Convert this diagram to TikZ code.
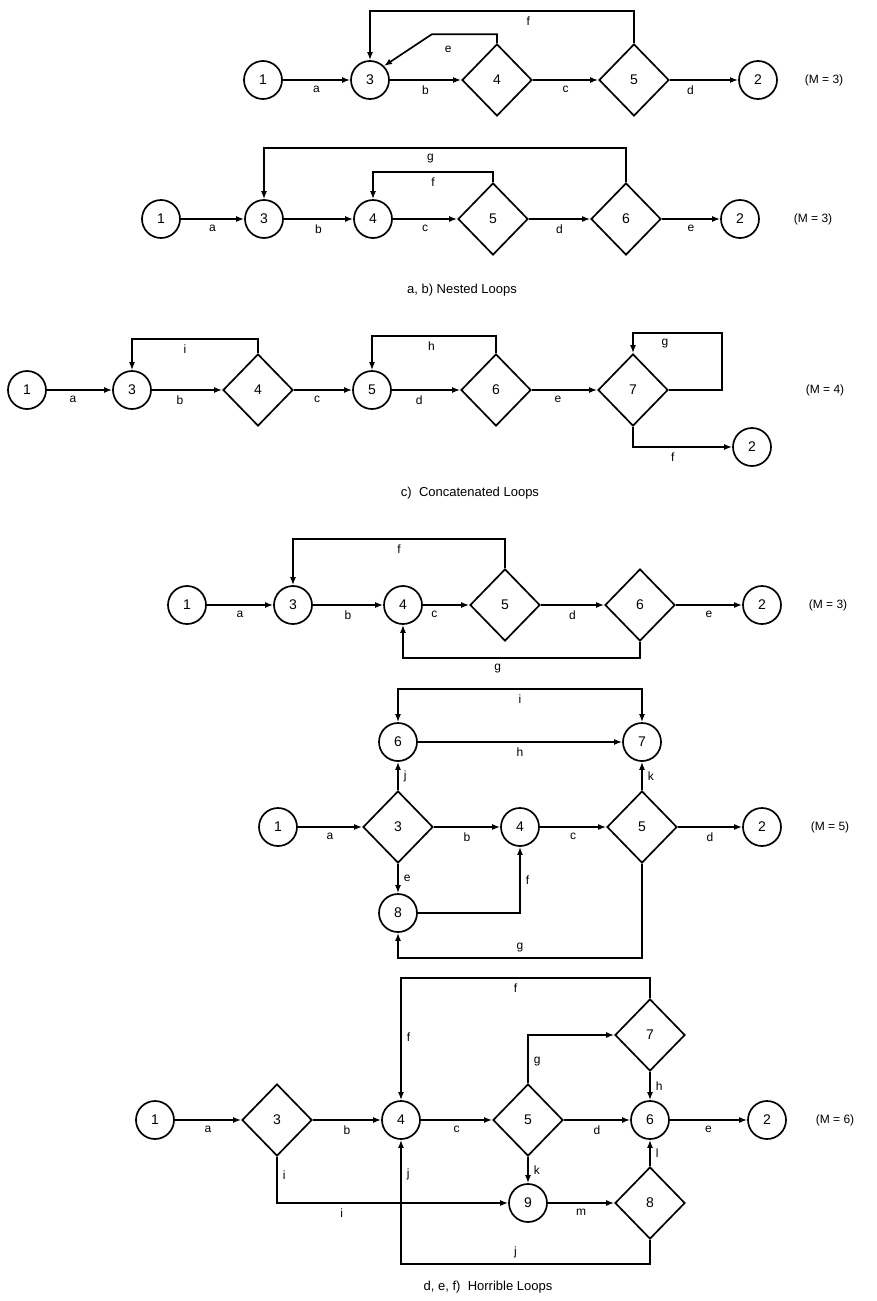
\documentclass[tikz,border=0pt]{standalone}
\usepackage{fontspec}
\setmainfont{Liberation Sans}
\usepackage{tikz}
\usetikzlibrary{arrows.meta,shapes.geometric}

\begin{document}
\begin{tikzpicture}[x=1pt,y=-1pt,line width=1.7pt,
  cnode/.style={circle,draw,minimum size=38pt,inner sep=0pt,font=\fontsize{14}{14}\selectfont},
  dnode/.style={diamond,draw,minimum width=70pt,minimum height=72pt,inner sep=0pt,font=\fontsize{14}{14}\selectfont},
  lbl/.style={font=\fontsize{12}{12}\selectfont,inner sep=5pt},
  mlbl/.style={font=\fontsize{12}{12}\selectfont},
  captext/.style={font=\fontsize{13}{13}\selectfont},
  arr/.style={-{Latex[length=8pt,width=6pt]}},
  arrb/.style={{Latex[length=8pt,width=6pt]}-{Latex[length=8pt,width=6pt]}}]
  \useasboundingbox (0,0) rectangle (876,1301);

  % a) nested loops
  \node[cnode] (a1) at (263,80) {1};
  \node[cnode] (a3) at (370,80) {3};
  \node[dnode] (a4) at (497,80) {4};
  \node[dnode] (a5) at (634,80) {5};
  \node[cnode] (a2) at (758,80) {2};
  \node[mlbl] (ma) at (824,80) {(M = 3)};
  \draw[arr] (a1) -- node[lbl,below] {a} (a3);
  \draw[arr] (a3) -- node[lbl,below] {b} (a4);
  \draw[arr] (a4) -- node[lbl,below] {c} (a5);
  \draw[arr] (a5) -- node[lbl,below,pos=0.3] {d} (a2);
  \draw[arr] (a5.north) -- ++(0,-32) -| node[lbl,below,pos=0.2] {f} (a3.north);
  \draw[arr] (a4.north) -- ++(0,-9) -- node[lbl,below=6pt,pos=0.75] {e} ++(-65,0) -- (a3.north east);

  % b) nested loops
  \node[cnode] (b1) at (161,219) {1};
  \node[cnode] (b3) at (264,219) {3};
  \node[cnode] (b4) at (373,219) {4};
  \node[dnode] (b5) at (493,219) {5};
  \node[dnode] (b6) at (626,219) {6};
  \node[cnode] (b2) at (740,219) {2};
  \node[mlbl] (mb) at (813,219) {(M = 3)};
  \draw[arr] (b1) -- node[lbl,below] {a} (b3);
  \draw[arr] (b3) -- node[lbl,below] {b} (b4);
  \draw[arr] (b4) -- node[lbl,below] {c} (b5);
  \draw[arr] (b5) -- node[lbl,below] {d} (b6);
  \draw[arr] (b6) -- node[lbl,below] {e} (b2);
  \draw[arr] (b6.north) -- ++(0,-34) -| node[lbl,below,pos=0.27] {g} (b3.north);
  \draw[arr] (b5.north) -- ++(0,-10) -| node[lbl,below,pos=0.25] {f} (b4.north);
  \node[captext] (capab) at (462,290) {a, b) Nested Loops};

  % c) concatenated loops
  \node[cnode] (c1) at (27,390) {1};
  \node[cnode] (c3) at (132,390) {3};
  \node[dnode] (c4) at (258,390) {4};
  \node[cnode] (c5) at (372,390) {5};
  \node[dnode] (c6) at (496,390) {6};
  \node[dnode] (c7) at (633,390) {7};
  \node[cnode] (c2) at (752,447) {2};
  \node[mlbl] (mc) at (825,390) {(M = 4)};
  \draw[arr] (c1) -- node[lbl,below,pos=0.4] {a} (c3);
  \draw[arr] (c3) -- node[lbl,below,pos=0.4] {b} (c4);
  \draw[arr] (c4) -- node[lbl,below,pos=0.4] {c} (c5);
  \draw[arr] (c5) -- node[lbl,below,pos=0.4] {d} (c6);
  \draw[arr] (c6) -- node[lbl,below,pos=0.4] {e} (c7);
  \draw[arr] (c4.north) -- ++(0,-14) -| node[lbl,below,pos=0.29] {i} (c3.north);
  \draw[arr] (c6.north) -- ++(0,-17) -| node[lbl,below,pos=0.26] {h} (c5.north);
  \draw[arr] (c7.east) -- ++(53,0) -- ++(0,-57) -| node[lbl,below,pos=0.32] {g} (c7.north);
  \draw[arr] (c7.south) |- node[lbl,below,pos=0.7] {f} (c2.west);
  \node[captext] (capc) at (470,493) {c)\ \ Concatenated Loops};

  % d) horrible loops
  \node[cnode] (d1) at (187,605) {1};
  \node[cnode] (d3) at (293,605) {3};
  \node[cnode] (d4) at (403,605) {4};
  \node[dnode] (d5) at (505,605) {5};
  \node[dnode] (d6) at (640,605) {6};
  \node[cnode] (d2) at (762,605) {2};
  \node[mlbl] (md) at (828,605) {(M = 3)};
  \draw[arr] (d1) -- node[lbl,below] {a} (d3);
  \draw[arr] (d3) -- node[lbl,below] {b} (d4);
  \draw[arr] (d4) -- node[lbl,below,pos=0.25] {c} (d5);
  \draw[arr] (d5) -- node[lbl,below] {d} (d6);
  \draw[arr] (d6) -- node[lbl,below] {e} (d2);
  \draw[arr] (d5.north) -- ++(0,-29) -| node[lbl,below,pos=0.25] {f} (d3.north);
  \draw[arr] (d6.south) -- ++(0,16) -| node[lbl,below,pos=0.3] {g} (d4.south);

  % e) horrible loops
  \node[cnode] (e1) at (278,827) {1};
  \node[dnode] (e3) at (398,827) {3};
  \node[cnode] (e4) at (520,827) {4};
  \node[dnode] (e5) at (642,827) {5};
  \node[cnode] (e2) at (762,827) {2};
  \node[cnode] (e6) at (398,742) {6};
  \node[cnode] (e7) at (642,742) {7};
  \node[cnode] (e8) at (398,913) {8};
  \node[mlbl] (me) at (830,827) {(M = 5)};
  \draw[arr] (e1) -- node[lbl,below] {a} (e3);
  \draw[arr] (e3) -- node[lbl,below] {b} (e4);
  \draw[arr] (e4) -- node[lbl,below] {c} (e5);
  \draw[arr] (e5) -- node[lbl,below] {d} (e2);
  \draw[arr] (e3.north) -- node[lbl,right] {j} (e6.south);
  \draw[arr] (e5.north) -- node[lbl,right] {k} (e7.south);
  \draw[arr] (e6) -- node[lbl,below] {h} (e7);
  \draw[arrb] (e6.north) -- ++(0,-33) -| node[lbl,below,pos=0.25] {i} (e7.north);
  \draw[arr] (e3.south) -- node[lbl,right] {e} (e8.north);
  \draw[arr] (e8.east) -| node[lbl,right,pos=0.75] {f} (e4.south);
  \draw[arr] (e5.south) -- ++(0,94) -| node[lbl,above,pos=0.25] {g} (e8.south);

  % f) horrible loops
  \node[cnode] (f1) at (155,1120) {1};
  \node[dnode] (f3) at (277,1120) {3};
  \node[cnode] (f4) at (401,1120) {4};
  \node[dnode] (f5) at (528,1120) {5};
  \node[cnode] (f6) at (650,1120) {6};
  \node[cnode] (f2) at (767,1120) {2};
  \node[dnode] (f7) at (650,1035) {7};
  \node[cnode] (f9) at (528,1203) {9};
  \node[dnode] (f8) at (650,1203) {8};
  \node[mlbl] (mf) at (835,1120) {(M = 6)};
  \draw[arr] (f1) -- node[lbl,below] {a} (f3);
  \draw[arr] (f3) -- node[lbl,below] {b} (f4);
  \draw[arr] (f4) -- node[lbl,below] {c} (f5);
  \draw[arr] (f5) -- node[lbl,below] {d} (f6);
  \draw[arr] (f6) -- node[lbl,below] {e} (f2);
  \draw[arr] (f7.north) -- ++(0,-20) -| node[lbl,below,pos=0.27] {f} node[lbl,right,pos=0.74] {f} (f4.north);
  \draw[arr] (f5.north) |- node[lbl,right,pos=0.22] {g} (f7.west);
  \draw[arr] (f7.south) -- node[lbl,right] {h} (f6.north);
  \draw[arr] (f3.south) |- node[lbl,right,pos=0.2] {i} node[lbl,below,pos=0.64] {i} (f9.west);
  \draw[arr] (f8.south) -- ++(0,24) -| node[lbl,above,pos=0.27] {j} node[lbl,right,pos=0.86] {j} (f4.south);
  \draw[arr] (f5.south) -- node[lbl,right] {k} (f9.north);
  \draw[arr] (f8.north) -- node[lbl,right] {l} (f6.south);
  \draw[arr] (f9) -- node[lbl,below] {m} (f8);
  \node[captext] (capf) at (488,1287) {d, e, f)\ \ Horrible Loops};
\end{tikzpicture}
\end{document}
